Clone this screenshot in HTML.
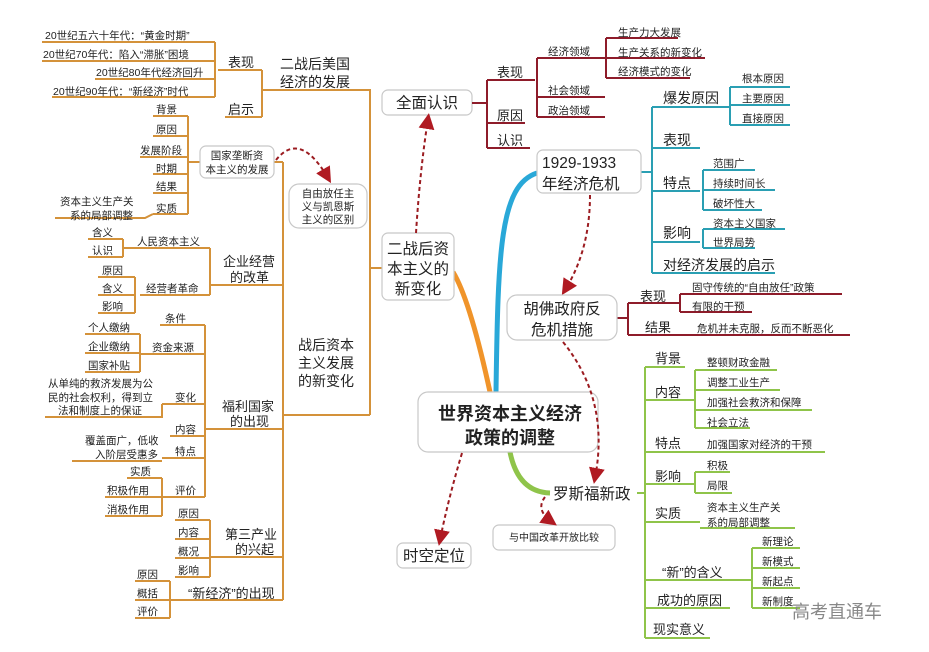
<!DOCTYPE html>
<html><head><meta charset="utf-8"><style>
html,body{margin:0;padding:0;background:#fff;}
svg{display:block;}
text{font-family:"Liberation Sans","Noto Sans CJK SC",sans-serif;fill:#222;}
.o{stroke:#d4923a;stroke-width:2;fill:none;}
.r{stroke:#8e1c2a;stroke-width:2;fill:none;}
.t{stroke:#2a9fb3;stroke-width:2;fill:none;}
.g{stroke:#8fc44a;stroke-width:2;fill:none;}
.s{font-size:10.5px;}
.m{font-size:13px;}
.b{font-size:15.5px;}
.box{fill:#fff;stroke:#c8c8c8;stroke-width:1.2;}
.d{stroke:#9b1b20;stroke-width:2;stroke-dasharray:4 3;fill:none;marker-end:url(#ah);}
</style></head><body>
<svg width="929" height="652" viewBox="0 0 929 652" xmlns="http://www.w3.org/2000/svg">
<defs><marker id="ah" markerWidth="8" markerHeight="8" refX="5" refY="4" orient="auto"><path d="M0,0 L8,4 L0,8 z" fill="#b01a22"/></marker></defs>

<!-- thick main branches -->
<path d="M490,392 Q470,300 453,272" stroke="#f0942a" stroke-width="5" fill="none"/>
<path d="M496,392 C498,250 500,185 537,173" stroke="#29a8d8" stroke-width="5" fill="none"/>
<path d="M510,452 Q518,492 550,493" stroke="#8fc44a" stroke-width="5" fill="none"/>

<!-- LEFT ORANGE -->
<g class="o">
<path d="M42,42H215M42,61H215M95,79H215M52,97H215M215,42V97"/>
<path d="M218,70H262M225,117H262M262,70V117M262,90H370V415M283,415H370M370,268H382"/>
<path d="M273,162H283M283,162V600"/>
<path d="M153,116H188M153,136H188M140,157H188M153,174H188M153,193H188M153,214H188M188,116V214M188,162H200M55,218H145L153,214"/>
<path d="M210,285H283M210,248V295M123,248H210M140,295H210M88,239H123M88,257H123M123,239V257M98,277H135M98,295H135M98,313H135M135,277V313"/>
<path d="M205,429H283M205,325V497M160,325H205M140,354H205M85,334H140M85,353H140M85,372H140M140,334V372M162,404H205M45,417H162V404M170,436H205M162,458H205M72,461H162M162,497H205M127,478H162M105,497H162M105,516H162M162,478V516"/>
<path d="M210,557H283M175,520H210M175,539H210M175,558H210M175,577H210M210,520V577"/>
<path d="M170,600H283M135,581H170M135,600H170M135,618H170M170,581V618"/>
</g>
<g class="s">
<text x="45" y="39">20世纪五六十年代：“黄金时期”</text>
<text x="43" y="58">20世纪70年代：陷入“滞胀”困境</text>
<text x="96" y="76">20世纪80年代经济回升</text>
<text x="53" y="95">20世纪90年代：“新经济”时代</text>
<text x="156" y="113">背景</text><text x="156" y="133">原因</text><text x="140" y="154">发展阶段</text>
<text x="156" y="172">时期</text><text x="156" y="190">结果</text><text x="156" y="212">实质</text>
<text x="60" y="205">资本主义生产关</text><text x="70" y="219">系的局部调整</text>
<text x="92" y="236">含义</text><text x="92" y="254">认识</text>
<text x="137" y="245">人民资本主义</text><text x="146" y="292">经营者革命</text>
<text x="102" y="274">原因</text><text x="102" y="292">含义</text><text x="102" y="310">影响</text>
<text x="165" y="322">条件</text><text x="152" y="351">资金来源</text>
<text x="88" y="331">个人缴纳</text><text x="88" y="350">企业缴纳</text><text x="88" y="369">国家补贴</text>
<text x="175" y="401">变化</text>
<text x="48" y="387">从单纯的救济发展为公</text><text x="48" y="401">民的社会权利，得到立</text><text x="58" y="414">法和制度上的保证</text>
<text x="175" y="433">内容</text><text x="175" y="455">特点</text>
<text x="85" y="444">覆盖面广，低收</text><text x="95" y="458">入阶层受惠多</text>
<text x="130" y="475">实质</text><text x="107" y="494">积极作用</text><text x="107" y="513">消极作用</text><text x="175" y="494">评价</text>
<text x="178" y="517">原因</text><text x="178" y="536">内容</text><text x="178" y="555">概况</text><text x="178" y="574">影响</text>
<text x="137" y="578">原因</text><text x="137" y="597">概括</text><text x="137" y="615">评价</text>
</g>
<g class="m">
<text x="228" y="67">表现</text><text x="228" y="114">启示</text>
<text x="223" y="266">企业经营</text><text x="230" y="282">的改革</text>
<text x="222" y="411">福利国家</text><text x="230" y="426">的出现</text>
<text x="225" y="539">第三产业</text><text x="235" y="554">的兴起</text>
<text x="188" y="598">“新经济”的出现</text>
<text x="280" y="69" font-size="14">二战后美国</text><text x="280" y="87" font-size="14">经济的发展</text>
<text x="298" y="350" font-size="14">战后资本</text><text x="298" y="368" font-size="14">主义发展</text><text x="298" y="386" font-size="14">的新变化</text>
</g>
<rect class="box" x="200" y="146" width="74" height="32" rx="6"/>
<text class="s" x="237" y="159" text-anchor="middle">国家垄断资</text><text class="s" x="237" y="173" text-anchor="middle">本主义的发展</text>
<rect class="box" x="289" y="184" width="78" height="44" rx="10"/>
<text class="s" x="328" y="197" text-anchor="middle">自由放任主</text><text class="s" x="328" y="210" text-anchor="middle">义与凯恩斯</text><text class="s" x="328" y="223" text-anchor="middle">主义的区别</text>
<path class="d" d="M276,160 Q300,130 328,178"/>

<rect class="box" x="382" y="90" width="90" height="25" rx="6"/>
<text class="b" x="427" y="108" text-anchor="middle">全面认识</text>
<rect class="box" x="382" y="233" width="72" height="67" rx="6"/>
<text class="b" x="418" y="254" text-anchor="middle">二战后资</text><text class="b" x="418" y="274" text-anchor="middle">本主义的</text><text class="b" x="418" y="294" text-anchor="middle">新变化</text>
<path class="d" d="M416,233 Q420,170 428,119"/>

<rect class="box" x="418" y="392" width="180" height="60" rx="10"/>
<text x="510" y="420" text-anchor="middle" font-size="18" font-weight="bold">世界资本主义经济</text>
<text x="510" y="444" text-anchor="middle" font-size="18" font-weight="bold">政策的调整</text>
<rect class="box" x="397" y="543" width="74" height="25" rx="6"/>
<text class="b" x="434" y="561" text-anchor="middle">时空定位</text>
<path class="d" d="M462,453 Q448,500 440,540"/>

<!-- RIGHT TOP MAROON -->
<g class="r">
<path d="M472,103H487M487,80V148M487,80H535M487,123H525M487,148H530M537,80V58M537,58V117M537,58H605M537,97H605M537,117H605M606,38V78M606,38H678M606,58H705M606,78H690"/>
<path d="M617,318H628M628,303V335M628,303H680M628,335H685M680,294V312M680,294H842M680,312H752M685,335H850"/>
</g>
<g class="m"><text x="497" y="77">表现</text><text x="497" y="120">原因</text><text x="497" y="145">认识</text>
<text x="640" y="301">表现</text><text x="645" y="332">结果</text></g>
<g class="s"><text x="548" y="55">经济领域</text><text x="548" y="94">社会领域</text><text x="548" y="114">政治领域</text>
<text x="618" y="36">生产力大发展</text><text x="618" y="56">生产关系的新变化</text><text x="618" y="75">经济模式的变化</text>
<text x="692" y="291">固守传统的“自由放任”政策</text><text x="692" y="310">有限的干预</text><text x="697" y="332">危机并未克服，反而不断恶化</text></g>

<!-- TEAL -->
<g class="t">
<path d="M641,172H652M652,107V273M652,107H730M652,148H700M652,191H700M652,242H700M652,273H775M730,87V125M730,87H790M730,105H790M730,125H790M703,170V210M703,170H755M703,190H775M703,210H762M703,229V248M703,229H785M703,248H755"/>
</g>
<g class="m"><text x="663" y="103" font-size="14">爆发原因</text><text x="663" y="145" font-size="14">表现</text><text x="663" y="188" font-size="14">特点</text><text x="663" y="238" font-size="14">影响</text><text x="663" y="270" font-size="14">对经济发展的启示</text></g>
<g class="s"><text x="742" y="82">根本原因</text><text x="742" y="102">主要原因</text><text x="742" y="122">直接原因</text>
<text x="713" y="167">范围广</text><text x="713" y="187">持续时间长</text><text x="713" y="207">破坏性大</text>
<text x="713" y="227">资本主义国家</text><text x="713" y="246">世界局势</text></g>
<rect class="box" x="537" y="150" width="104" height="43" rx="6"/>
<text class="b" x="542" y="168">1929-1933</text><text class="b" x="542" y="189">年经济危机</text>
<path class="d" d="M590,195 Q590,250 565,290"/>
<rect class="box" x="507" y="295" width="110" height="45" rx="10"/>
<text class="b" x="562" y="314" text-anchor="middle">胡佛政府反</text><text class="b" x="562" y="335" text-anchor="middle">危机措施</text>
<path class="d" d="M563,342 Q610,400 595,478"/>

<!-- GREEN -->
<g class="g">
<path d="M637,493H645M645,367V638M645,367H685M645,400H695M645,452H700M645,484H695M645,522H700M645,580H752M645,608H730M645,638H710"/>
<path d="M695,370V428M695,370H777M695,390H780M695,410H812M695,428H750M700,452H825M695,472V493M695,472H730M695,493H732M700,528H795M752,548V608M752,548H800M752,568H800M752,588H800M752,608H800"/>
</g>
<g class="m" font-size="14"><text x="655" y="363">背景</text><text x="655" y="397">内容</text><text x="655" y="448">特点</text><text x="655" y="481">影响</text><text x="655" y="518">实质</text>
<text x="662" y="577">“新”的含义</text><text x="657" y="605">成功的原因</text><text x="653" y="634">现实意义</text></g>
<g class="s"><text x="707" y="366">整顿财政金融</text><text x="707" y="386">调整工业生产</text><text x="707" y="406">加强社会救济和保障</text><text x="707" y="426">社会立法</text>
<text x="707" y="448">加强国家对经济的干预</text><text x="707" y="469">积极</text><text x="707" y="489">局限</text>
<text x="707" y="511">资本主义生产关</text><text x="707" y="526">系的局部调整</text>
<text x="762" y="545">新理论</text><text x="762" y="565">新模式</text><text x="762" y="585">新起点</text><text x="762" y="605">新制度</text></g>
<text class="b" x="553" y="499">罗斯福新政</text>
<rect class="box" x="493" y="525" width="122" height="25" rx="6"/>
<text x="554" y="541" text-anchor="middle" font-size="10">与中国改革开放比较</text>
<path class="d" d="M545,497 Q535,510 552,522"/>

<text x="792" y="618" font-size="18" style="fill:#888">高考直通车</text>
</svg>
</body></html>
